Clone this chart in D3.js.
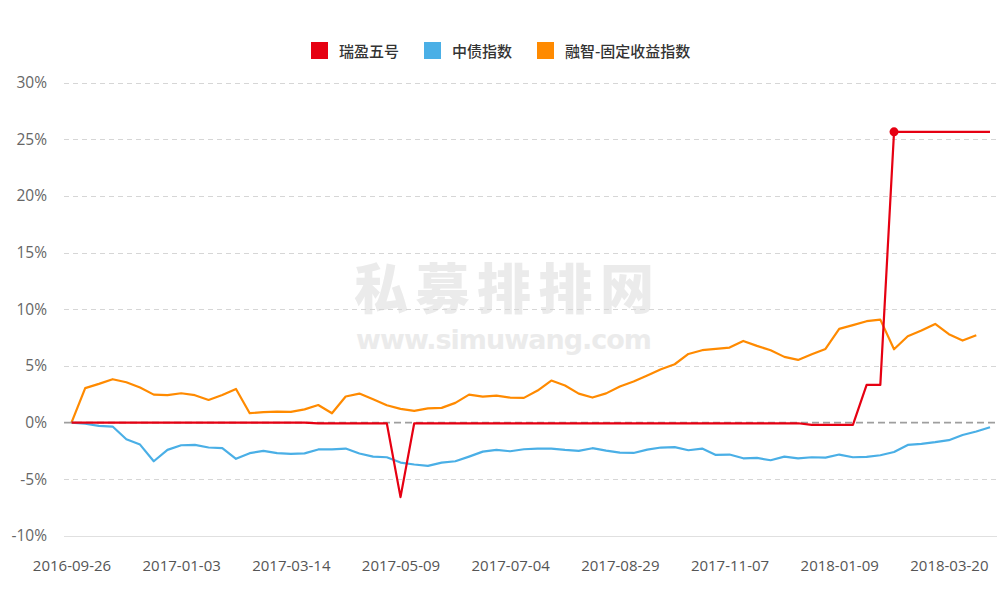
<!DOCTYPE html>
<html><head><meta charset="utf-8">
<script src="https://cdn.jsdelivr.net/npm/d3@7"></script>
<style>
html,body{margin:0;padding:0;background:#fff;}
svg{display:block;font-family:"Open Sans","Noto Sans","Noto Sans CJK SC",sans-serif;}
</style></head>
<body><svg id="chart" width="998" height="591"></svg>
<script>
const dates = ["2016-09-26","2016-10-10","2016-10-24","2016-11-07","2016-11-21","2016-12-05","2016-12-19","2016-12-26",
"2017-01-03","2017-01-10","2017-01-17","2017-02-07","2017-02-14","2017-02-21","2017-02-28","2017-03-07",
"2017-03-14","2017-03-21","2017-03-28","2017-04-05","2017-04-11","2017-04-18","2017-04-25","2017-05-02",
"2017-05-09","2017-05-16","2017-05-23","2017-05-31","2017-06-06","2017-06-13","2017-06-20","2017-06-27",
"2017-07-04","2017-07-11","2017-07-18","2017-07-25","2017-08-01","2017-08-08","2017-08-15","2017-08-22",
"2017-08-29","2017-09-05","2017-09-12","2017-09-19","2017-09-26","2017-10-17","2017-10-24","2017-10-31",
"2017-11-07","2017-11-14","2017-11-21","2017-11-28","2017-12-05","2017-12-12","2017-12-19","2017-12-26",
"2018-01-09","2018-01-16","2018-01-23","2018-01-30","2018-02-06","2018-02-13","2018-03-06","2018-03-13",
"2018-03-20","2018-03-27","2018-04-03","2018-04-10"];

const seriesNames = ["瑞盈五号","中债指数","融智-固定收益指数"];
const seriesColors = ["#e60012","#4aafe6","#ff8a00"];

const ruiying = [0,0,0,0,0,0,0,0,0,0,0,0,0,0,0,0,0,0,
-0.06,-0.06,-0.06,-0.06,-0.06,-0.06,-6.58,
-0.06,-0.06,-0.06,-0.06,-0.06,-0.06,-0.06,-0.06,-0.06,-0.06,-0.06,-0.06,-0.06,-0.06,-0.06,-0.06,-0.06,-0.06,-0.06,-0.06,-0.06,-0.06,-0.06,-0.06,-0.06,-0.06,-0.06,-0.06,-0.06,
-0.2,-0.2,-0.2,-0.2,3.33,3.33,
25.66,25.66,25.66,25.66,25.66,25.66,25.66,25.66];

const zhongzhai = [0,-0.1,-0.29,-0.35,-1.47,-1.94,-3.41,-2.41,-2.0,-1.97,-2.2,-2.26,-3.2,-2.7,
-2.5,-2.7,-2.76,-2.72,-2.37,-2.37,-2.29,-2.73,-3.0,-3.06,-3.53,-3.7,-3.82,-3.53,-3.41,-3.0,
-2.56,-2.41,-2.53,-2.35,-2.29,-2.29,-2.41,-2.5,-2.26,-2.47,-2.65,-2.68,-2.38,-2.2,-2.17,
-2.44,-2.29,-2.85,-2.82,-3.15,-3.12,-3.32,-3.0,-3.15,-3.06,-3.09,-2.82,-3.06,-3.03,-2.88,
-2.59,-1.97,-1.88,-1.73,-1.55,-1.09,-0.79,-0.41];

const rongzhi = [0,3.04,3.42,3.83,3.56,3.09,2.47,2.42,2.59,2.42,2.0,2.44,2.97,0.83,0.92,0.97,
0.95,1.17,1.55,0.82,2.3,2.56,2.06,1.53,1.21,1.03,1.25,1.30,1.74,2.47,2.3,2.38,2.21,2.18,2.83,
3.71,3.27,2.56,2.21,2.58,3.18,3.62,4.15,4.71,5.15,6.06,6.39,6.5,6.62,7.21,6.77,6.39,5.8,5.53,
6.03,6.5,8.27,8.6,8.95,9.09,6.47,7.62,8.12,8.71,7.8,7.24,7.71];

const yTicks = [-10,-5,0,5,10,15,20,25,30];
const xLabelEvery = 8;

const svg = d3.select("#chart");
const gridLeft = 64, gridRight = 997;
const x = d3.scalePoint().domain(dates).range([71.5, 990]);
const y = d3.scaleLinear().domain([-10, 30]).range([535.9, 82.7]);

// watermark
const wm = svg.append("g").attr("fill","#ebebeb").attr("text-anchor","middle");
wm.append("text").attr("x",504).attr("y",309).attr("font-size",54).attr("font-weight",900)
  .attr("font-family","'Noto Sans CJK SC',sans-serif").attr("textLength",300).text("私募排排网");
wm.append("text").attr("x",504).attr("y",349).attr("font-size",27).attr("font-weight",700)
  .attr("font-family","'DejaVu Sans',sans-serif").attr("textLength",296).attr("lengthAdjust","spacing").text("www.simuwang.com");

// gridlines
svg.append("g").selectAll("line").data(yTicks).join("line")
  .attr("x1",gridLeft).attr("x2",gridRight)
  .attr("y1",d=>Math.round(y(d))+0.5).attr("y2",d=>Math.round(y(d))+0.5)
  .attr("stroke",d=>d===-10?"#e0e0e0":(d===0?"none":"#d6d6d6"))
  .attr("stroke-width",1)
  .attr("stroke-dasharray",d=>d===-10?null:"5,4");

// zero reference line
svg.append("line").attr("x1",gridLeft).attr("x2",gridRight)
  .attr("y1",y(0)).attr("y2",y(0))
  .attr("stroke","#9e9e9e").attr("stroke-width",1.6).attr("stroke-dasharray","7,4");

// y axis
const yAxis = svg.append("g").attr("transform","translate(47,0)")
  .call(d3.axisLeft(y).tickValues(yTicks).tickFormat(d=>d+"%").tickSize(0).tickPadding(0));
yAxis.select(".domain").remove();
yAxis.selectAll("text").attr("fill","#666").attr("font-size",15.5)
  .attr("font-family","'Open Sans',sans-serif");

// x axis
const xAxis = svg.append("g").attr("transform","translate(0,560)")
  .call(d3.axisBottom(x).tickValues(dates.filter((d,i)=>i%xLabelEvery===0)).tickSize(0).tickPadding(0));
xAxis.select(".domain").remove();
xAxis.selectAll("text").attr("fill","#555").attr("font-size",15)
  .attr("font-family","'Open Sans',sans-serif");

// lines
const allSeries = [ruiying, zhongzhai, rongzhi];
const line = d3.line().x((d,i)=>x(dates[i])).y(d=>y(d));
[2,1,0].forEach(k=>{
  svg.append("path").datum(allSeries[k]).attr("d",line)
    .attr("fill","none").attr("stroke",seriesColors[k]).attr("stroke-width",2.2)
    .attr("stroke-linejoin","round");
});

// highlight point on 瑞盈五号 at its maximum
const maxIdx = ruiying.indexOf(d3.max(ruiying));
svg.append("circle").attr("cx",x(dates[maxIdx])).attr("cy",y(ruiying[maxIdx])).attr("r",4.5)
  .attr("fill",seriesColors[0]);

// legend
const legendX = [311, 424, 537];
const lg = svg.append("g");
seriesNames.forEach((n,i)=>{
  lg.append("rect").attr("x",legendX[i]).attr("y",42).attr("width",17).attr("height",17).attr("fill",seriesColors[i]);
  lg.append("text").attr("x",legendX[i]+28).attr("y",56.5).attr("font-size",15).attr("font-weight",500)
    .attr("fill","#333").attr("font-family","'Noto Sans CJK SC',sans-serif").text(n);
});
</script></body></html>
